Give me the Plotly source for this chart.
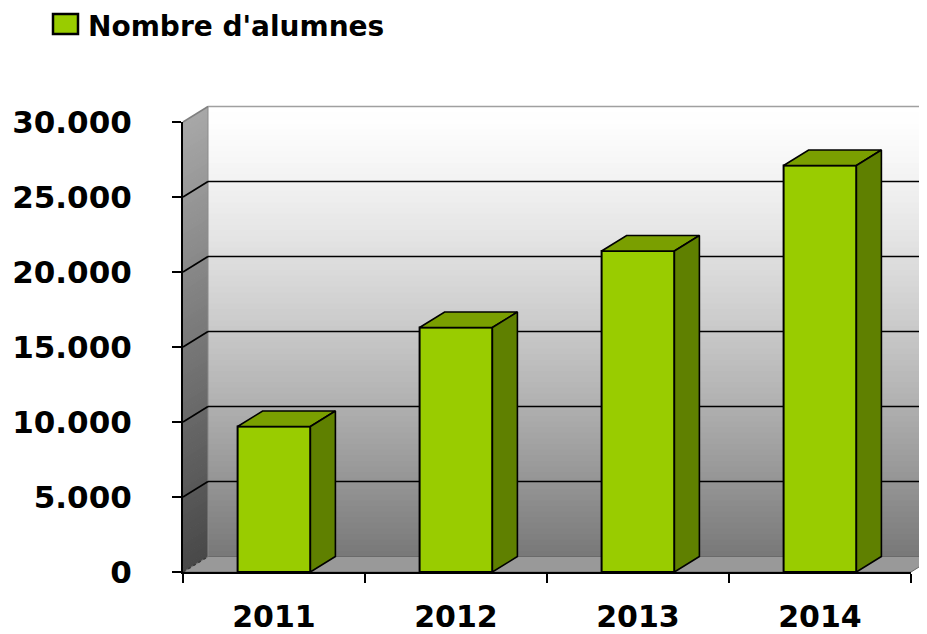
import plotly.graph_objects as go

# ---- data ----
years = ["2011", "2012", "2013", "2014"]
alumnes = [9700, 16300, 21400, 27100]
series_name = "Nombre d'alumnes"
y_tickvals = [0, 5000, 10000, 15000, 20000, 25000, 30000]
y_ticktext = ["0", "5.000", "10.000", "15.000", "20.000", "25.000", "30.000"]

# ---- geometry / style ----
OFF = 8                      # page body margin offset in the screenshot
W, H = 927 - OFF, 634 - OFF  # figure fits in the visible window
PW, PH = 728, 450
ML, MT = 183 - OFF, 122 - OFF
MR, MB = W - ML - PW, H - MT - PH
YMAX = 30000
DEPTH_PX_X, DEPTH_PX_Y = 25, 15.5
DX = DEPTH_PX_X / PW            # paper units
DY = DEPTH_PX_Y / PH
ncat = len(years)
cat_px = PW / ncat
ddx = DEPTH_PX_X / cat_px       # data units (category)
ddy = DEPTH_PX_Y / PH * YMAX    # data units (value)
BAR_W = 0.40

FRONT = "#99CC00"
TOP = "#7A9F00"
SIDE = "#5F8000"
FONT = dict(family="DejaVu Sans", weight="bold", color="black")

fig = go.Figure()

# front faces of the columns
fig.add_trace(go.Bar(
    x=years, y=alumnes, width=BAR_W, name=series_name,
    marker=dict(color=FRONT, line=dict(color="black", width=2)),
    showlegend=False, hoverinfo="x+y",
))

# top and side faces (numeric overlay axis)
for i, v in enumerate(alumnes):
    xl, xr = i - BAR_W / 2, i + BAR_W / 2
    fig.add_trace(go.Scatter(
        x=[xl, xr, xr + ddx, xl + ddx, xl], y=[v, v, v + ddy, v + ddy, v],
        xaxis="x2", mode="lines", fill="toself", fillcolor=TOP,
        line=dict(color="black", width=1.6), showlegend=False, hoverinfo="skip",
    ))
    fig.add_trace(go.Scatter(
        x=[xr, xr + ddx, xr + ddx, xr, xr], y=[0, ddy, v + ddy, v, 0],
        xaxis="x2", mode="lines", fill="toself", fillcolor=SIDE,
        line=dict(color="black", width=1.6), showlegend=False, hoverinfo="skip",
    ))

shapes = []
N = 80
def gray(g):
    g = int(round(g))
    return f"rgb({g},{g},{g})"

# back wall gradient
for k in range(N):
    t0, t1 = k / N, (k + 1) / N
    tm = (t0 + t1) / 2
    g = 255 - 135 * (tm ** 1.3)
    shapes.append(dict(type="rect", xref="paper", yref="paper", layer="below",
                       x0=DX, x1=1 + DX + 0.05, y0=1 + DY - t1 - 0.002, y1=1 + DY - t0,
                       fillcolor=gray(g), line=dict(width=0)))
# left side wall gradient
for k in range(N):
    t0, t1 = k / N, (k + 1) / N
    tm = (t0 + t1) / 2
    g = 168 - 96 * tm
    y0, y1 = 1 - t1 - 0.002, 1 - t0
    shapes.append(dict(type="path", xref="paper", yref="paper", layer="below",
                       path=f"M 0,{y0} L {DX},{y0 + DY} L {DX},{y1 + DY} L 0,{y1} Z",
                       fillcolor=gray(g), line=dict(width=0)))
# floor
shapes.append(dict(type="path", xref="paper", yref="paper", layer="below",
                   path=f"M 0,0 L 1,0 L {1 + DX},{DY} L {DX},{DY} Z",
                   fillcolor="#999999", line=dict(color="#6a6a6a", width=1)))
# wall edges
shapes.append(dict(type="line", xref="paper", yref="paper", layer="below",
                   x0=DX, x1=DX, y0=DY, y1=1 + DY, line=dict(color="#8a8a8a", width=1)))
shapes.append(dict(type="line", xref="paper", yref="paper", layer="below",
                   x0=DX, x1=1 + DX + 0.05, y0=1 + DY, y1=1 + DY, line=dict(color="#a0a0a0", width=1.5)))
shapes.append(dict(type="line", xref="paper", yref="paper", layer="below",
                   x0=0, x1=DX, y0=1, y1=1 + DY, line=dict(color="#808080", width=1.5)))
shapes.append(dict(type="line", xref="paper", yref="paper", layer="below",
                   x0=0, x1=DX, y0=0, y1=DY, line=dict(color="#3a3a3a", width=1.5, dash="dot")))
# gridlines on back wall + side wall
for v in y_tickvals[1:-1]:
    f = v / YMAX
    shapes.append(dict(type="line", xref="paper", yref="paper", layer="below",
                       x0=DX, x1=1 + DX + 0.05, y0=f + DY, y1=f + DY,
                       line=dict(color="black", width=1.6)))
    shapes.append(dict(type="line", xref="paper", yref="paper", layer="below",
                       x0=0, x1=DX, y0=f, y1=f + DY,
                       line=dict(color="black", width=1.6)))

# legend (drawn manually to match the large swatch); target screen pixels
LEG_X0, LEG_X1 = 53 - OFF, 78 - OFF
LEG_Y0, LEG_Y1 = 14 - OFF, 34 - OFF
def px_x(p):
    return (p - ML) / PW
def px_y(p):
    return (MT + PH - p) / PH
shapes.append(dict(type="rect", xref="paper", yref="paper", layer="above",
                   x0=px_x(LEG_X0), x1=px_x(LEG_X1),
                   y0=px_y(LEG_Y1), y1=px_y(LEG_Y0),
                   fillcolor=FRONT, line=dict(color="black", width=2.5)))
annotations = [dict(
    text=series_name, xref="paper", yref="paper", showarrow=False,
    x=px_x(86 - OFF), y=px_y(0), xanchor="left", yanchor="top",
    font=dict(size=28, **FONT),
)]

fig.update_layout(
    template="none",
    width=W, height=H,
    margin=dict(l=ML, r=MR, t=MT, b=MB, pad=0, autoexpand=False),
    paper_bgcolor="white", plot_bgcolor="rgba(0,0,0,0)",
    showlegend=False, bargap=0.6,
    shapes=shapes, annotations=annotations,
    xaxis=dict(type="category", categoryorder="array", categoryarray=years,
               range=[-0.5, ncat - 0.5], tickson="boundaries", automargin=False,
               ticks="outside", ticklen=9, tickwidth=2, tickcolor="black",
               showline=True, linecolor="black", linewidth=2,
               showgrid=False, zeroline=False, fixedrange=True,
               tickfont=dict(size=30, **FONT), ticklabelstandoff=17),
    xaxis2=dict(overlaying="x", range=[-0.5, ncat - 0.5], visible=False, fixedrange=True),
    yaxis=dict(range=[0, YMAX], tickvals=y_tickvals, ticktext=y_ticktext, automargin=False,
               ticks="outside", ticklen=9, tickwidth=2, tickcolor="black",
               showline=True, linecolor="black", linewidth=2,
               showgrid=False, zeroline=False, fixedrange=True,
               tickfont=dict(size=31, **FONT), ticklabelstandoff=34),
)

fig.write_html("out.html")
